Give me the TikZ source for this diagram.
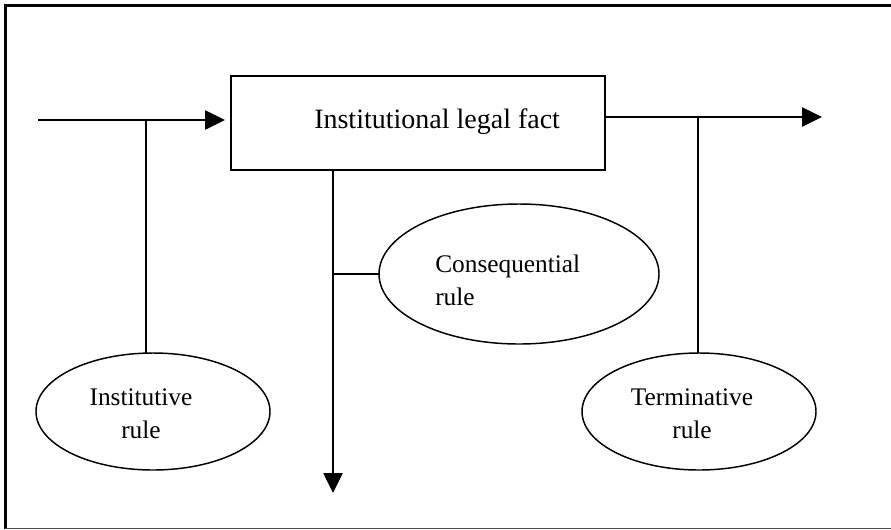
\documentclass[tikz,border=0pt]{standalone}
\usepackage{fontspec}
\setmainfont{Liberation Serif}
\usetikzlibrary{arrows.meta,shapes.geometric}

\begin{document}
\begin{tikzpicture}[x=0.75pt,y=-0.75pt,
  line/.style={line width=1.1pt,draw=black},
  flow/.style={line,-{Triangle[length=15pt,width=14.5pt]}},
  factbox/.style={draw,line width=1.1pt,rectangle,inner sep=0pt,outer sep=0pt,
    minimum width=280.5pt,minimum height=70.5pt},
  rulebox/.style={draw,line width=1.1pt,ellipse,inner sep=0pt,outer sep=0pt},
  caption/.style={inner sep=0pt,font=\fontsize{19}{24.75}\selectfont},
  title/.style={inner sep=0pt,font=\fontsize{21}{26}\selectfont}]

  % page area
  \useasboundingbox (0,0) rectangle (891,529);

  % frame: heavy top and left edges, light bottom edge
  \draw[line width=2.25pt] (5.7,529) -- (5.7,5) -- (891,5);
  \draw[line width=0.8pt,draw=black!70] (5,528.3) -- (891,528.3);

  % central fact box
  \node[factbox] (fact) at (418,123) {};
  \node[title,anchor=base west] (factlabel) at (314,128) {Institutional legal fact};

  % rule ellipses
  \node[rulebox,minimum width=175.5pt,minimum height=87.75pt] (inst) at (153,411.5) {};
  \node[rulebox,minimum width=175.5pt,minimum height=87.75pt] (term) at (699,411.5) {};
  \node[rulebox,minimum width=210pt,minimum height=105pt] (cons) at (519,274) {};

  % two-line captions, placed by the baseline of their last line
  \node[caption,align=center,anchor=base] (instlabel) at (141,438) {Institutive\\rule};
  \node[caption,align=center,anchor=base] (termlabel) at (692,438) {Terminative\\rule};
  \node[caption,align=left,anchor=base west] (conslabel) at (435,305) {Consequential\\rule};

  % free ends of the flow arrows and the joints on them
  \coordinate (inStart) at (38,120);
  \coordinate (inTip) at (225,120);
  \coordinate (outTip) at (822,117);
  \coordinate (downTip) at (333,493);
  \coordinate (inJoin) at (146,120);
  \coordinate (outJoin) at (698,117);

  % flow into and out of the fact
  \draw[flow] (inStart) -- (inTip);
  \draw[flow] (fact.east |- outTip) -- (outTip);
  \draw[flow] (fact.south -| downTip) -- (downTip);

  % rules attached to the flows
  \draw[line] (inJoin) -- (inJoin |- inst.north);
  \draw[line] (outJoin) -- (outJoin |- term.north);
  \draw[line] (cons.west -| downTip) -- (cons.west);
\end{tikzpicture}
\end{document}
